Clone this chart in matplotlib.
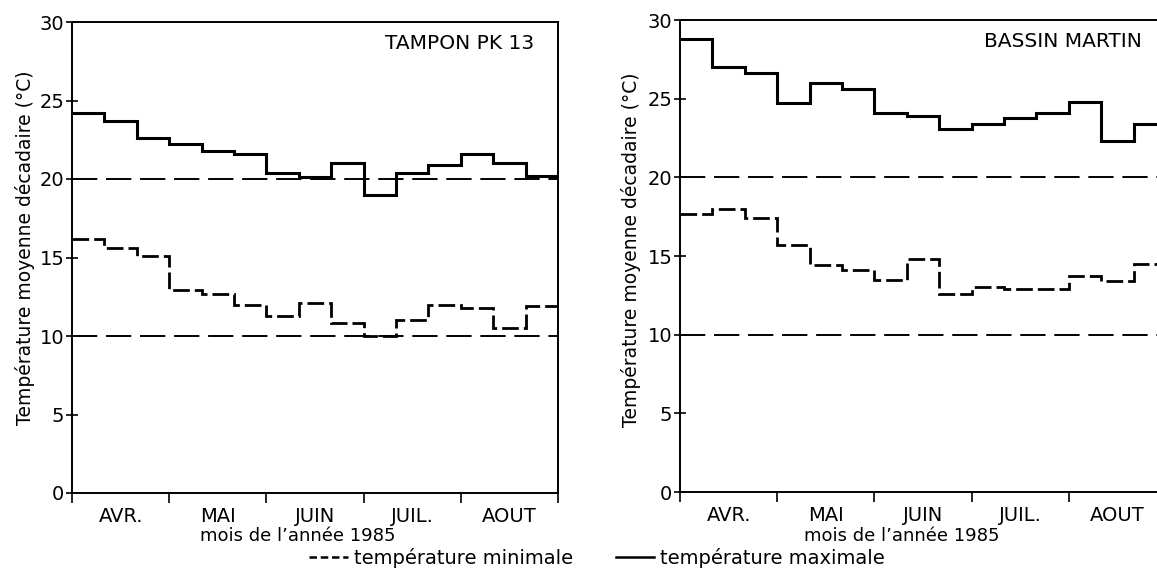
import numpy as np
import matplotlib
matplotlib.use("Agg")
import matplotlib.pyplot as plt
from matplotlib.lines import Line2D

# decadal (10-day) mean temperatures, April to August 1985
months = ["AVR.", "MAI", "JUIN", "JUIL.", "AOUT"]
tampon_max = [24.2, 23.7, 22.6, 22.2, 21.8, 21.6, 20.4, 20.1, 21.0, 19.0, 20.4, 20.9, 21.6, 21.0, 20.2]
tampon_min = [16.2, 15.6, 15.1, 12.9, 12.7, 12.0, 11.3, 12.1, 10.8, 10.0, 11.0, 12.0, 11.8, 10.5, 11.9]
bassin_max = [28.8, 27.0, 26.6, 24.7, 26.0, 25.6, 24.1, 23.9, 23.1, 23.4, 23.8, 24.1, 24.8, 22.3, 23.4]
bassin_min = [17.7, 18.0, 17.4, 15.7, 14.4, 14.1, 13.5, 14.8, 12.6, 13.0, 12.9, 12.9, 13.7, 13.4, 14.5]
ref_levels = [20, 10]
stations = ["TAMPON PK 13", "BASSIN MARTIN"]

plt.rcParams["font.family"] = ["DejaVu Sans"]

fig = plt.figure(figsize=(11.57, 5.71), dpi=100)
W, H = 1157, 571
ax1 = fig.add_axes([72 / W, (H - 493) / H, 486 / W, 471 / H])
ax2 = fig.add_axes([680 / W, (H - 492) / H, 486 / W, 472 / H])

min_style = (0, (6, 1.8))
ref_style = (0, (13, 4.5))

for ax, tmax, tmin, name in [(ax1, tampon_max, tampon_min, stations[0]),
                             (ax2, bassin_max, bassin_min, stations[1])]:
    edges = np.arange(len(tmax) + 1)
    ax.stairs(tmax, edges, baseline=None, color="black", lw=2.2)
    ax.stairs(tmin, edges, baseline=None, color="black", lw=2.0, linestyle=min_style)
    for lvl in ref_levels:
        ax.axhline(lvl, color="black", lw=1.4, linestyle=ref_style)

    ax.set_xlim(0, len(tmax))
    ax.set_ylim(0, 30)
    ax.set_yticks([0, 5, 10, 15, 20, 25, 30])
    ax.tick_params(axis="y", direction="inout", length=9, width=1.2,
                   labelsize=14, pad=1)
    ax.set_xticks(np.arange(0, len(tmax) + 1, 3))
    ax.set_xticklabels([])
    ax.tick_params(axis="x", which="major", direction="out", length=7, width=1.2)
    ax.set_xticks(np.arange(1.5, len(tmax), 3), minor=True)
    ax.set_xticklabels(months, minor=True)
    ax.tick_params(axis="x", which="minor", length=0, labelsize=14, pad=10)
    for sp in ax.spines.values():
        sp.set_linewidth(1.4)

    ax.text(0.95, 0.955, name, transform=ax.transAxes, ha="right", va="center",
            fontsize=14.5)

# axis titles placed as in the figure
ylab = "Température moyenne décadaire (°C)"
fig.text(25 / W, 1 - 248 / H, ylab, rotation=90, ha="center", va="center", fontsize=13.5)
fig.text(631 / W, 1 - 250 / H, ylab, rotation=90, ha="center", va="center", fontsize=13.5)
xlab = "mois de l’année 1985"
fig.text(298 / W, 1 - 536 / H, xlab, ha="center", va="center", fontsize=13)
fig.text(902 / W, 1 - 536 / H, xlab, ha="center", va="center", fontsize=13)

handles = [Line2D([], [], color="black", lw=1.8, linestyle=(0, (3, 1.5))),
           Line2D([], [], color="black", lw=1.8)]
fig.legend(handles, ["température minimale", "température maximale"],
           loc="center", bbox_to_anchor=(597 / W, 1 - 558 / H), ncol=2,
           frameon=False, fontsize=14, handlelength=2.0, handletextpad=0.3,
           columnspacing=2.2, borderpad=0, borderaxespad=0)

fig.savefig("out.png", dpi=100)
